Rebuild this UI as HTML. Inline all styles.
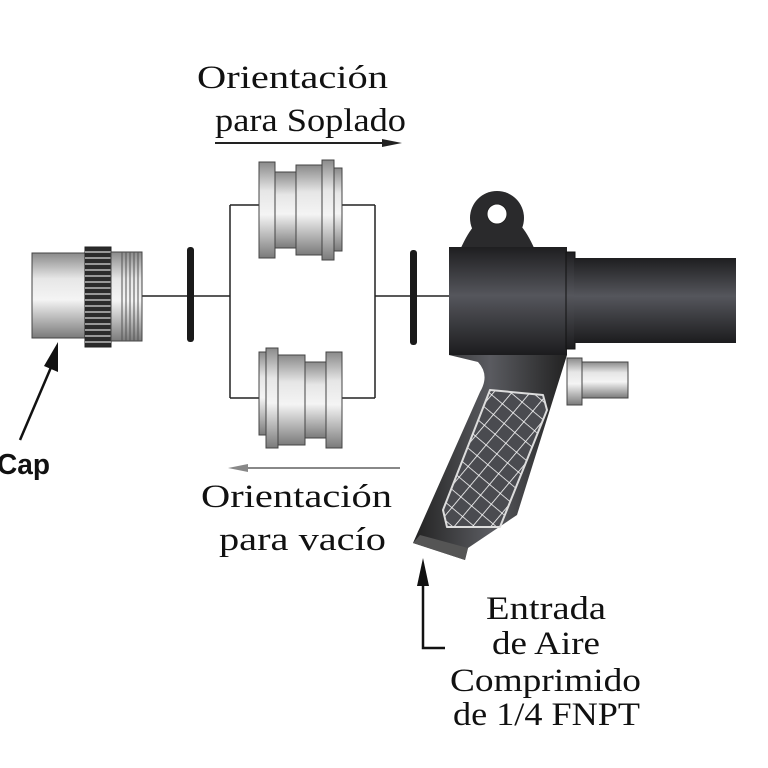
<!DOCTYPE html>
<html><head><meta charset="utf-8"><style>body{margin:0;background:#fff}svg{display:block}</style></head><body>
<svg width="768" height="768" viewBox="0 0 768 768" xmlns="http://www.w3.org/2000/svg">
<defs>
<linearGradient id="m" x1="0" y1="0" x2="0" y2="1">
<stop offset="0" stop-color="#8a8a8a"/><stop offset="0.3" stop-color="#e6e6e6"/><stop offset="0.55" stop-color="#f4f4f4"/><stop offset="1" stop-color="#7a7a7a"/></linearGradient>
<linearGradient id="d" x1="0" y1="0" x2="0" y2="1">
<stop offset="0" stop-color="#1e1e20"/><stop offset="0.45" stop-color="#55565c"/><stop offset="1" stop-color="#1c1c1e"/></linearGradient>
<linearGradient id="h" x1="0" y1="0" x2="1" y2="0">
<stop offset="0" stop-color="#222"/><stop offset="0.5" stop-color="#5a5b60"/><stop offset="1" stop-color="#222"/></linearGradient>
<pattern id="x" width="14" height="14" patternUnits="userSpaceOnUse" patternTransform="rotate(40)">
<rect width="14" height="14" fill="#4a4b50"/><path d="M0 0H14M0 0V14" stroke="#fff" stroke-width="1.6"/></pattern>
</defs>
<g font-family="Liberation Serif, serif" font-size="33" fill="#111">
<text x="197" y="88" textLength="191" lengthAdjust="spacingAndGlyphs">Orientación</text>
<text x="215" y="131" textLength="191" lengthAdjust="spacingAndGlyphs">para Soplado</text>
<text x="201" y="507" textLength="191" lengthAdjust="spacingAndGlyphs">Orientación</text>
<text x="219" y="550" textLength="167" lengthAdjust="spacingAndGlyphs">para vacío</text>
<text x="486" y="619" textLength="120" lengthAdjust="spacingAndGlyphs">Entrada</text>
<text x="492" y="654" textLength="108" lengthAdjust="spacingAndGlyphs">de Aire</text>
<text x="450" y="691" textLength="191" lengthAdjust="spacingAndGlyphs">Comprimido</text>
<text x="453" y="725" textLength="187" lengthAdjust="spacingAndGlyphs">de 1/4 FNPT</text>
</g>
<text x="-3" y="474" font-family="Liberation Sans, sans-serif" font-weight="bold" font-size="29" textLength="53" lengthAdjust="spacingAndGlyphs" fill="#111">Cap</text>
<line x1="215" y1="143" x2="385" y2="143" stroke="#222" stroke-width="2"/><path d="M402 143L382 139L382 147Z" fill="#222"/>
<line x1="245" y1="468" x2="400" y2="468" stroke="#888" stroke-width="2"/><path d="M228 468L248 464L248 472Z" fill="#888"/>
<line x1="20" y1="440" x2="52" y2="365" stroke="#111" stroke-width="2.5"/><path d="M58 342L44 366L58 372Z" fill="#111"/>
<path d="M423 585V648H445" fill="none" stroke="#111" stroke-width="2.5"/><path d="M423 558L417 586L429 586Z" fill="#111"/>
<path d="M142 296H230M230 205V398M230 205H259M230 398H259M342 205H375M342 398H375M375 205V398M375 296H449" fill="none" stroke="#222" stroke-width="1.5"/>
<rect x="187" y="247" width="7" height="95" rx="3" fill="#1a1a1a"/>
<rect x="410" y="250" width="7" height="95" rx="3" fill="#1a1a1a"/>
<rect x="32" y="253" width="54" height="85" fill="url(#m)" stroke="#444"/>
<rect x="85" y="247" width="26" height="100" fill="#2a2a2a" stroke="#222"/>
<path d="M85 252H111M85 258H111M85 264H111M85 270H111M85 276H111M85 282H111M85 288H111M85 294H111M85 300H111M85 306H111M85 312H111M85 318H111M85 324H111M85 330H111M85 336H111M85 342H111" stroke="#bbb" stroke-width="1.5"/>
<rect x="111" y="252" width="31" height="89" fill="url(#m)" stroke="#444"/>
<path d="M122 252V341M126 252V341M130 252V341M134 252V341M138 252V341" stroke="#555"/>
<g stroke="#444">
<rect x="259" y="162" width="16" height="96" fill="url(#m)"/><rect x="275" y="172" width="21" height="76" fill="url(#m)"/>
<rect x="296" y="165" width="27" height="90" fill="url(#m)"/><rect x="322" y="160" width="12" height="100" fill="url(#m)"/><rect x="334" y="168" width="8" height="83" fill="url(#m)"/>
<rect x="259" y="352" width="8" height="83" fill="url(#m)"/><rect x="266" y="348" width="12" height="100" fill="url(#m)"/>
<rect x="278" y="355" width="27" height="90" fill="url(#m)"/><rect x="305" y="362" width="21" height="76" fill="url(#m)"/><rect x="326" y="352" width="16" height="96" fill="url(#m)"/>
</g>
<circle cx="497" cy="218" r="27" fill="#2a2a2c"/>
<path d="M460 250Q468 232 475 225H520Q527 232 535 250Z" fill="#2a2a2c"/>
<circle cx="497" cy="214" r="10" fill="#fff" stroke="#222"/>
<path d="M449 355L478 362Q490 375 480 392L413 543L465 560L468 548L517 515L567 355Z" fill="url(#h)"/>
<path d="M413 543L465 560L468 548L420 535Z" fill="#555"/>
<path d="M490 390L543 395L547 410L500 527L447 527L443 510Z" fill="url(#x)" stroke="#ddd" stroke-width="2" stroke-linejoin="round"/>
<rect x="449" y="247" width="118" height="108" fill="url(#d)"/>
<rect x="566" y="252" width="9" height="97" fill="url(#d)" stroke="#111"/>
<rect x="574" y="258" width="162" height="85" fill="url(#d)"/>
<rect x="567" y="358" width="15" height="47" fill="url(#m)" stroke="#444"/>
<rect x="582" y="362" width="46" height="36" fill="url(#m)" stroke="#444"/>
</svg>
</body></html>
